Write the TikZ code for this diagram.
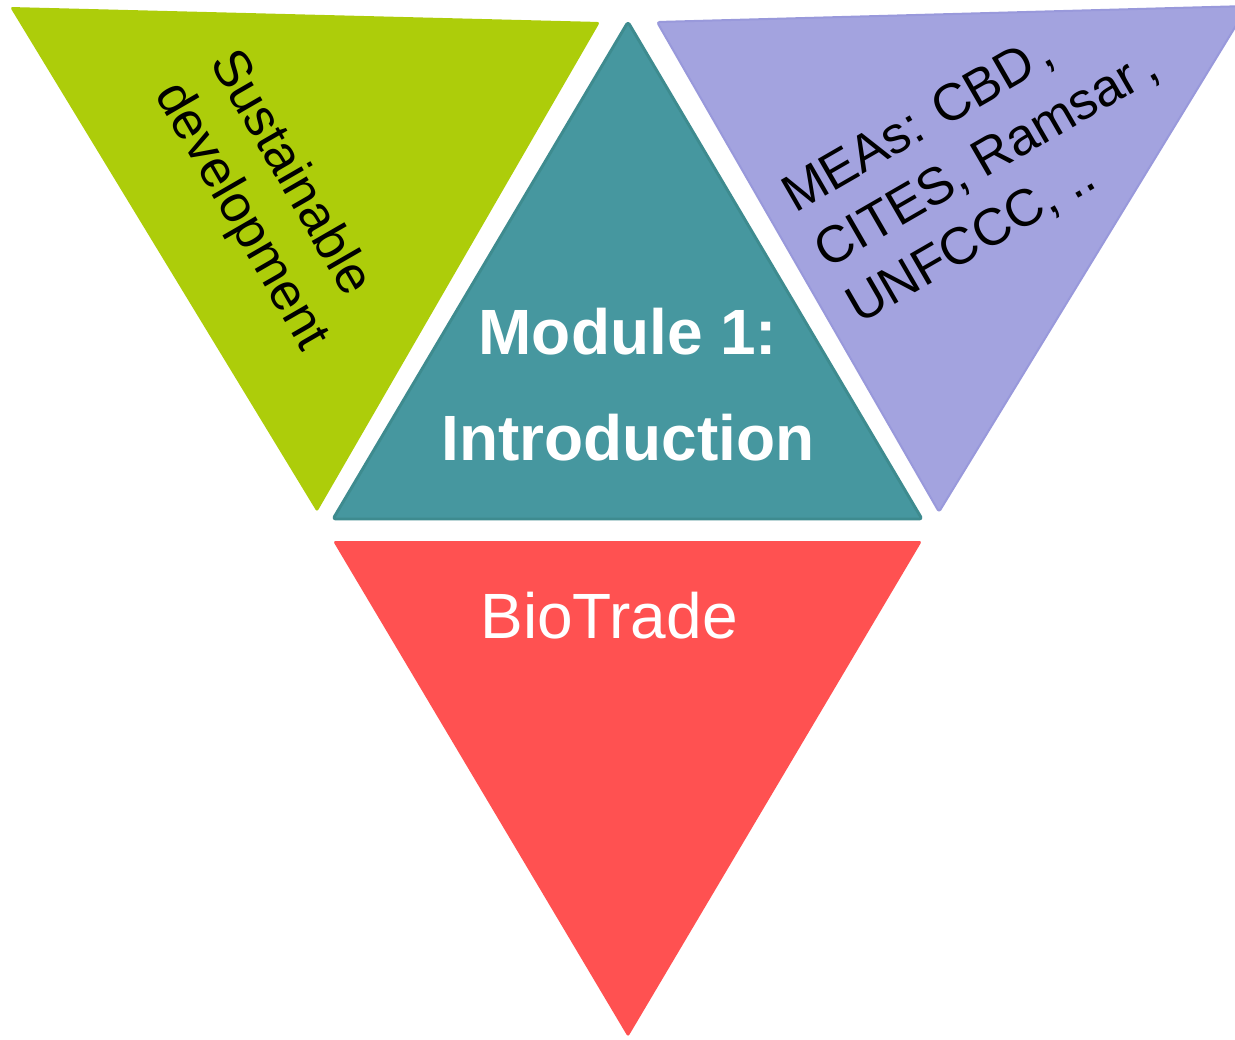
\documentclass[tikz,border=0pt]{standalone}
\usepackage{fontspec}
\setmainfont{Liberation Sans}
\usepackage{tikz}

\definecolor{sdgreen}{HTML}{ADCD0A}
\definecolor{modteal}{HTML}{46979F}
\definecolor{modtealedge}{HTML}{3E8B8F}
\definecolor{measlilac}{HTML}{A3A3DF}
\definecolor{measedge}{HTML}{9999DB}
\definecolor{bioredfill}{HTML}{FF5151}

\begin{document}
\begin{tikzpicture}[x=0.75pt,y=-0.75pt,line join=round,
  tri/.style={rounded corners=2pt},
  green tri/.style={tri,fill=sdgreen},
  teal tri/.style={tri,fill=modteal,draw=modtealedge,line width=2.2pt},
  lilac tri/.style={tri,fill=measlilac,draw=measedge,line width=1.5pt},
  red tri/.style={tri,fill=bioredfill},
  side text/.style={inner sep=0pt,align=left,font=\fontsize{39}{48}\selectfont},
  main text/.style={inner sep=0pt,align=center,text=white,font=\bfseries\fontsize{48}{79.5}\selectfont},
  red text/.style={inner sep=0pt,text=white,font=\fontsize{48}{58}\selectfont}]

  \clip (0,0) rectangle (1235,1039);

  \coordinate (g1) at (10,7);
  \coordinate (g2) at (600,22);
  \coordinate (g3) at (317,512);
  \coordinate (t1) at (628,22);
  \coordinate (t2) at (922,519);
  \coordinate (t3) at (333,519);
  \coordinate (l1) at (657,22);
  \coordinate (l2) at (1248,6);
  \coordinate (l3) at (939,512);
  \coordinate (r1) at (333,541);
  \coordinate (r2) at (922,541);
  \coordinate (r3) at (628,1037);

  \fill[green tri] (g1) -- (g2) -- (g3) -- cycle;
  \filldraw[teal tri] (t1) -- (t2) -- (t3) -- cycle;
  \filldraw[lilac tri] (l1) -- (l2) -- (l3) -- cycle;
  \fill[red tri] (r1) -- (r2) -- (r3) -- cycle;

  \node[side text,rotate=-60] (sust) at (268,201) {Sustainable\\development};
  \node[side text,rotate=30] (meas) at (987,160) {MEAs: CBD\hspace{0.12em},\\CITES, Ramsar\hspace{0.15em},\\UNFCCC, ..};
  \node[main text] (module) at (628,385) {Module 1:\\Introduction};
  \node[red text,anchor=base] (biotrade) at (609,638) {BioTrade};

\end{tikzpicture}
\end{document}
